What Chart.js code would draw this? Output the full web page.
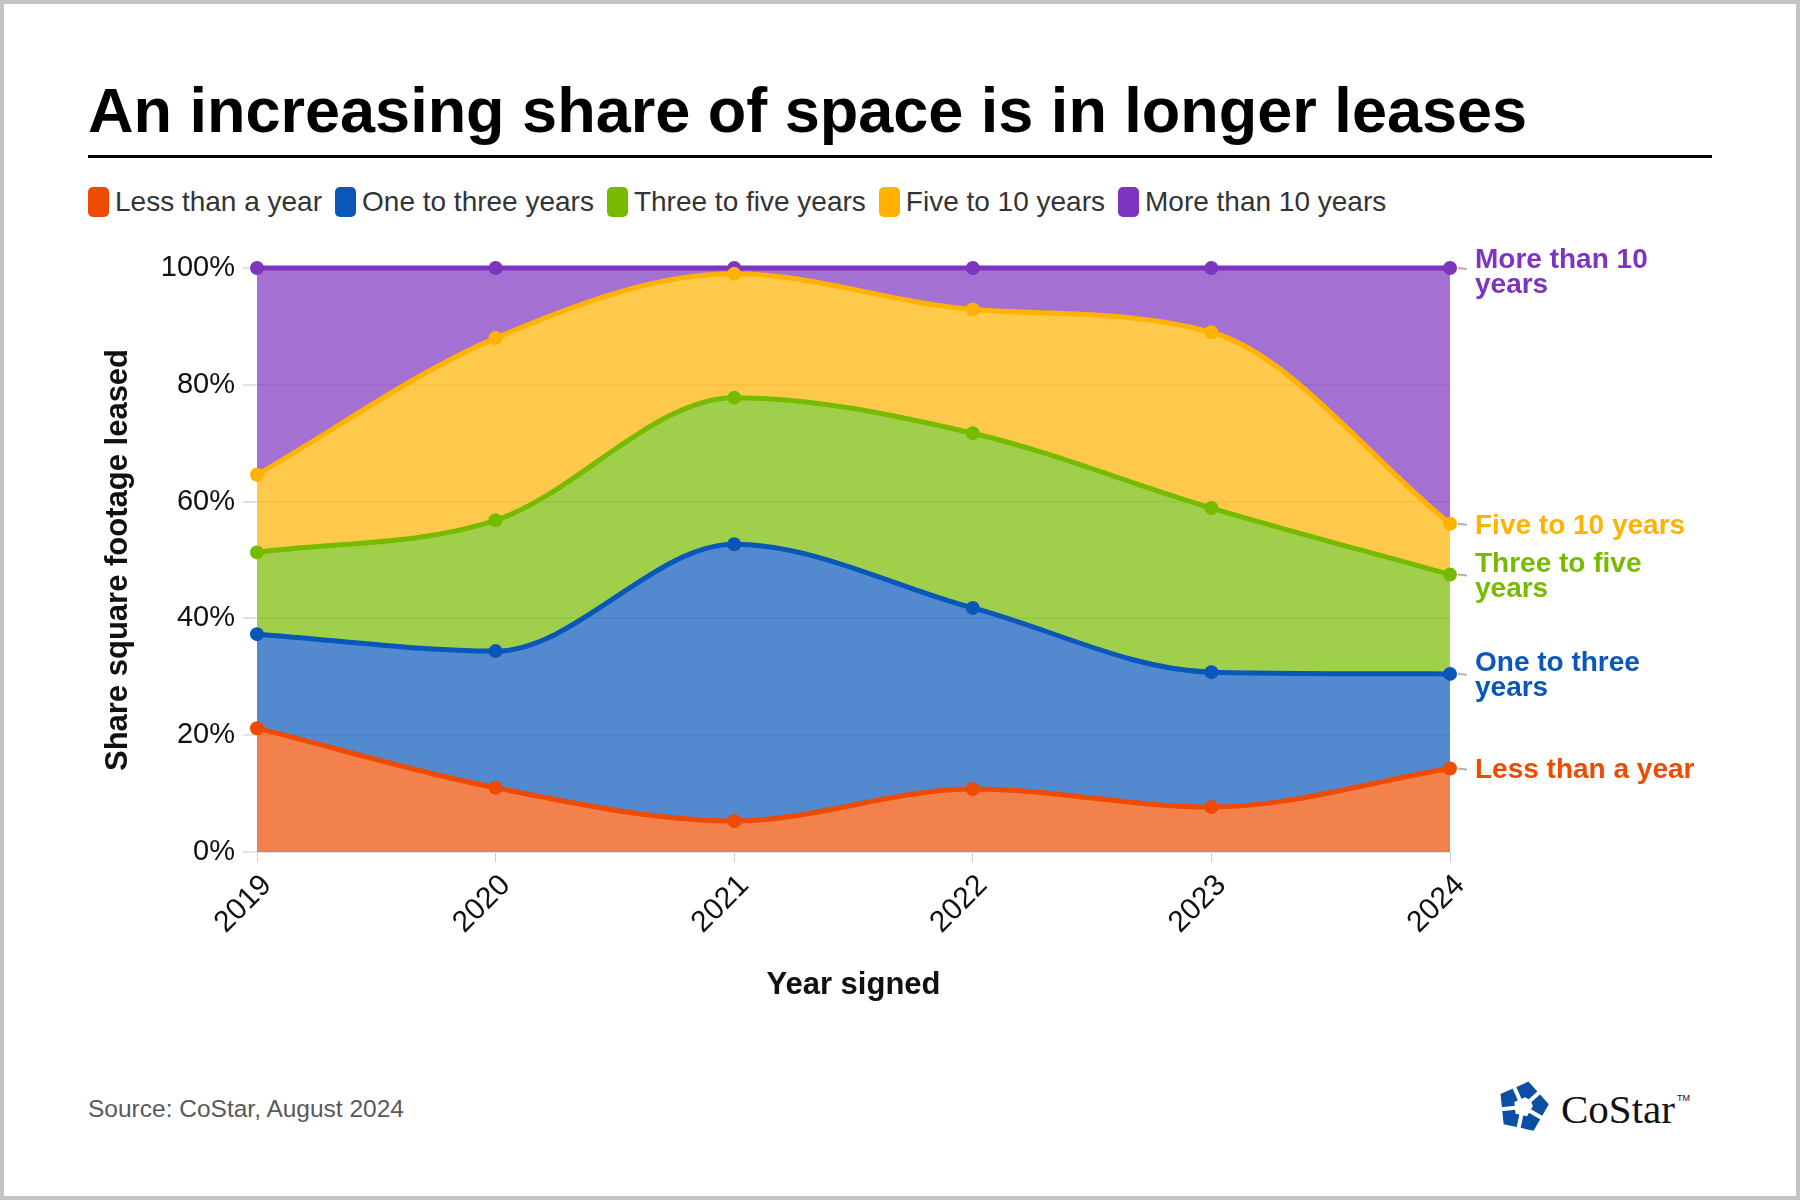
<!DOCTYPE html>
<html>
<head>
<meta charset="utf-8">
<script src="https://cdn.jsdelivr.net/npm/chart.js@4.4.1/dist/chart.umd.min.js"></script>
<style>
  html, body { margin: 0; padding: 0; background: #fff; }
  #page { position: relative; width: 1800px; height: 1200px; overflow: hidden; font-family: "Liberation Sans", Arial, sans-serif; }
  #frame { position: absolute; left: 0; top: 0; width: 1800px; height: 1200px; box-sizing: border-box; border: 4px solid #c3c3c3; pointer-events: none; }
  #title { position: absolute; left: 88px; top: 79px; font-size: 63px; line-height: 63px; font-weight: bold; color: #000; white-space: nowrap; }
  #rule { position: absolute; left: 88px; top: 155px; width: 1624px; height: 3px; background: #000; }
  #legend { position: absolute; left: 88px; top: 187px; height: 30px; display: flex; align-items: center; }
  .item { display: flex; align-items: center; margin-right: 13px; font-size: 28px; color: #333; white-space: nowrap; }
  .swatch { width: 21px; height: 30px; border-radius: 5px; margin-right: 6px; }
  #chartBox { position: absolute; left: 80px; top: 240px; width: 1680px; height: 780px; }
  #source { position: absolute; left: 88px; top: 1094px; font-size: 24.5px; line-height: 30px; color: #595959; }
  #logo { position: absolute; left: 1496px; top: 1081px; }
  #logoText { position: absolute; left: 1561px; top: 1078px; font-family: "Liberation Serif", "Times New Roman", serif; font-size: 41px; line-height: 41px; color: #111; white-space: nowrap; }
  #logoText sup { font-family: "Liberation Sans", Arial, sans-serif; font-size: 9px; vertical-align: 22px; margin-left: 2px; }
</style>
</head>
<body>
<div id="page">
  <div id="title">An increasing share of space is in longer leases</div>
  <div id="rule"></div>
  <div id="legend"></div>
  <div id="chartBox"><canvas id="myChart"></canvas></div>
  <div id="source">Source: CoStar, August 2024</div>
  <svg id="logo" width="54" height="52" viewBox="-27 -26 54 52">
    <g transform="rotate(12)">
      <polygon points="0,-26 24.7,-8 15.3,21 -15.3,21 -24.7,-8" fill="#0a4fa3"/>
      <polygon points="0,-10 5.9,-8.1 9.5,3.1 0,10 -9.5,3.1 -5.9,-8.1" fill="#fff" transform="rotate(36)"/>
      <g stroke="#fff" stroke-width="4">
        <line x1="0" y1="0" x2="0" y2="30" transform="rotate(0)"/>
        <line x1="0" y1="0" x2="0" y2="30" transform="rotate(72)"/>
        <line x1="0" y1="0" x2="0" y2="30" transform="rotate(144)"/>
        <line x1="0" y1="0" x2="0" y2="30" transform="rotate(216)"/>
        <line x1="0" y1="0" x2="0" y2="30" transform="rotate(288)"/>
      </g>
    </g>
  </svg>
  <div id="logoText">CoStar<sup>TM</sup></div>
  <div id="frame"></div>
</div>
<script>
// adatok (sávonkénti részesedés, %)
const years = ['2019', '2020', '2021', '2022', '2023', '2024'];
const lessThanYear = [21.2, 11.0, 5.3, 10.8, 7.7, 14.3];
const oneToThree = [16.1, 23.4, 47.4, 31.0, 23.1, 16.2];
const threeToFive = [14.0, 22.4, 25.1, 29.9, 28.1, 17.0];
const fiveToTen = [13.3, 31.2, 21.2, 21.2, 30.1, 8.7];
const moreThanTen = [35.4, 12.0, 1.0, 7.1, 11.0, 43.8];

const seriesNames = ['Less than a year', 'One to three years', 'Three to five years', 'Five to 10 years', 'More than 10 years'];
const endLabels = [['Less than a year'], ['One to three', 'years'], ['Three to five', 'years'], ['Five to 10 years'], ['More than 10', 'years']];
const lineColors = ['#ee4b00', '#0a57ba', '#77bb00', '#ffb300', '#7e34bf'];
const fillColors = ['rgba(238,75,0,0.7)', 'rgba(10,87,186,0.7)', 'rgba(119,187,0,0.7)', 'rgba(255,179,0,0.7)', 'rgba(126,52,191,0.7)'];
const seriesValues = [lessThanYear, oneToThree, threeToFive, fiveToTen, moreThanTen];

const FONT = '"Liberation Sans", Arial, sans-serif';

// jelmagyarázat
const legendEl = document.getElementById('legend');
seriesNames.forEach((name, i) => {
    const item = document.createElement('div');
    item.className = 'item';
    item.innerHTML = '<span class="swatch" style="background:' + lineColors[i] + '"></span>' + name;
    legendEl.appendChild(item);
});

// címkék a jobb oldalon
const endLabelPlugin = {
    id: 'endLabels',
    afterDatasetsDraw(chart) {
        const { ctx, chartArea } = chart;
        ctx.save();
        ctx.font = 'bold 28px ' + FONT;
        ctx.textBaseline = 'middle';
        ctx.textAlign = 'left';
        chart.data.datasets.forEach((ds, i) => {
            const meta = chart.getDatasetMeta(i);
            const pt = meta.data[meta.data.length - 1];
            ctx.strokeStyle = '#b0b0b0';
            ctx.lineWidth = 2;
            ctx.beginPath();
            ctx.moveTo(chartArea.right + 8, pt.y);
            ctx.lineTo(chartArea.right + 17, pt.y + 1);
            ctx.stroke();
            const lines = endLabels[i];
            const lh = 25;
            let y0 = pt.y - (lines.length - 1) * lh / 2 + 2;
            y0 = Math.max(y0, chartArea.top - 8);
            ctx.fillStyle = ds.borderColor;
            lines.forEach((t, k) => ctx.fillText(t, chartArea.right + 25, y0 + k * lh));
        });
        ctx.restore();
    }
};

const datasets = seriesValues.map((vals, i) => ({
    label: seriesNames[i],
    data: vals,
    borderColor: lineColors[i],
    backgroundColor: fillColors[i],
    pointBackgroundColor: lineColors[i],
    pointBorderWidth: 0,
    pointRadius: 7,
    borderWidth: 5,
    fill: i === 0 ? 'origin' : '-1',
    cubicInterpolationMode: 'monotone',
    clip: false
}));

const ctx = document.getElementById('myChart').getContext('2d');
const myChart = new Chart(ctx, {
    type: 'line',
    data: { labels: years, datasets: datasets },
    options: {
        responsive: true,
        maintainAspectRatio: false,
        animation: false,
        layout: { padding: { top: 28, right: 310, left: 0, bottom: 0 } },
        plugins: {
            legend: { display: false },
            tooltip: { enabled: false }
        },
        scales: {
            x: {
                stacked: true,
                grid: { drawOnChartArea: false, drawTicks: true, tickLength: 10, color: '#cccccc' },
                border: { display: false },
                ticks: { minRotation: 45, maxRotation: 45, color: '#111', font: { family: FONT, size: 30 }, padding: 6, labelOffset: 10 },
                title: { display: true, text: 'Year signed', color: '#111', font: { family: FONT, size: 31, weight: 'bold' }, padding: { top: 0, bottom: 16 } },
                afterFit(scale) { scale.height = 168; }
            },
            y: {
                stacked: true,
                min: 0,
                max: 100,
                grid: { color: '#e4e4e4', lineWidth: 2, tickLength: 14 },
                border: { display: false },
                ticks: { stepSize: 20, color: '#111', font: { family: FONT, size: 29 }, padding: 8, callback: v => v + '%' },
                title: { display: true, text: 'Share square footage leased', color: '#111', font: { family: FONT, size: 31, weight: 'bold' }, padding: { top: 20, bottom: 0 } },
                afterFit(scale) { scale.width = 177; }
            }
        }
    },
    plugins: [endLabelPlugin]
});
</script>
</body>
</html>
